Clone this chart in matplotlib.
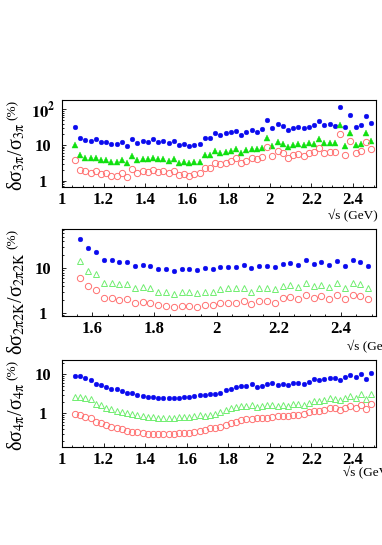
import matplotlib
matplotlib.use("Agg")
import matplotlib.pyplot as plt
from matplotlib.ticker import FixedLocator, FixedFormatter, NullFormatter, LogLocator

plt.rcParams['mathtext.fontset'] = 'stix'

# energy bin centres (GeV)
e_full = [1.0625, 1.0875, 1.1125, 1.1375, 1.1625, 1.1875, 1.2125, 1.2375, 1.2625, 1.2875,
          1.3125, 1.3375, 1.3625, 1.3875, 1.4125, 1.4375, 1.4625, 1.4875, 1.5125, 1.5375,
          1.5625, 1.5875, 1.6125, 1.6375, 1.6625, 1.6875, 1.7125, 1.7375, 1.7625, 1.7875,
          1.8125, 1.8375, 1.8625, 1.8875, 1.9125, 1.9375, 1.9625, 1.9875, 2.0125, 2.0375,
          2.0625, 2.0875, 2.1125, 2.1375, 2.1625, 2.1875, 2.2125, 2.2375, 2.2625, 2.2875,
          2.3125, 2.3375, 2.3625, 2.3875, 2.4125, 2.4375, 2.4625, 2.4875]
e_2k = [1.5625, 1.5875, 1.6125, 1.6375, 1.6625, 1.6875, 1.7125, 1.7375, 1.7625, 1.7875,
        1.8125, 1.8375, 1.8625, 1.8875, 1.9125, 1.9375, 1.9625, 1.9875, 2.0125, 2.0375,
        2.0625, 2.0875, 2.1125, 2.1375, 2.1625, 2.1875, 2.2125, 2.2375, 2.2625, 2.2875,
        2.3125, 2.3375, 2.3625, 2.3875, 2.4125, 2.4375, 2.4625, 2.4875]

# 3pi relative errors (%)
pi3_blue = [31, 16, 13.8, 13.2, 14.4, 11.9, 11.9, 10.4, 10.4, 12.4,
            9.6, 14.7, 11.4, 12.9, 12.4, 14.4, 12.4, 12.9, 11.4, 12.9,
            10.0, 10.4, 9.2, 10.2, 10.6, 15.4, 15.4, 21.2, 19.1, 21.2,
            22.7, 25.2, 19.1, 22.7, 26.3, 23.7, 27.5, 50, 29.3, 38.8,
            34, 26.3, 29.3, 32.7, 29.3, 32.7, 36.3, 47, 36.3, 38.8,
            34, 114, 31.3, 69, 31.3, 36.3, 66, 40.5]
pi3_green = [10, 5.2, 4.4, 4.2, 4.4, 3.8, 3.8, 3.4, 3.4, 3.8,
             3.1, 4.9, 3.8, 4.1, 4.0, 4.4, 4.0, 4.1, 3.6, 4.1,
             3.2, 3.4, 3.1, 3.4, 3.4, 5.3, 5.2, 6.8, 6.1, 6.5,
             6.9, 7.7, 6.1, 7.2, 7.7, 7.6, 8.4, 15.4, 9.4, 12.4,
             10.7, 9.0, 10, 10.7, 10, 11.1, 10.7, 14.7, 11.1, 11.6,
             11.1, 36, 9.6, 22, 10, 10.7, 21, 13.2]
pi3_red = [3.8, 2.0, 1.8, 1.68, 1.87, 1.54, 1.6, 1.38, 1.38, 1.6,
           1.24, 2.1, 1.6, 1.8, 1.7, 2.0, 1.7, 1.8, 1.6, 1.87,
           1.44, 1.54, 1.38, 1.54, 1.6, 2.3, 2.2, 3.06, 2.9, 3.2,
           3.6, 4.2, 3.06, 3.6, 4.2, 3.96, 4.7, 8.6, 4.9, 6.8,
           5.8, 4.4, 5.2, 5.6, 5.0, 5.8, 6.5, 8.1, 6.1, 6.5,
           6.2, 20, 5.2, 12.9, 5.8, 6.8, 11.9, 7.6]

# 2pi2K relative errors (%)
k2_blue = [44.9, 28.8, 23.5, 15.3, 15.6, 13.6, 14.1, 11.3, 11.9, 11.5,
           9.8, 9.7, 8.9, 9.5, 9.5, 9.0, 10, 9.7, 10.9, 10.5,
           10.7, 11.7, 10, 11.5, 11.3, 10.9, 12.7, 13.4, 11.9, 15.3,
           12.7, 14.1, 11.9, 14.5, 11.5, 15.1, 13.6, 11.5]
k2_green = [14.5, 8.9, 7.4, 4.8, 4.8, 4.4, 4.4, 3.6, 3.8, 3.6,
            3.0, 3.0, 2.7, 2.9, 2.9, 2.8, 3.0, 2.9, 3.4, 3.6,
            3.6, 3.7, 3.0, 3.7, 3.7, 3.5, 4.1, 4.3, 3.8, 4.8,
            4.1, 4.3, 3.8, 4.6, 3.6, 4.6, 4.4, 3.7]
k2_red = [6.2, 4.0, 3.3, 2.15, 2.2, 2.0, 2.05, 1.67, 1.76, 1.73,
          1.53, 1.48, 1.36, 1.48, 1.48, 1.41, 1.53, 1.53, 1.73, 1.73,
          1.73, 1.88, 1.58, 1.88, 1.88, 1.73, 2.2, 2.35, 2.08, 2.56,
          2.2, 2.43, 2.08, 2.56, 2.08, 2.56, 2.43, 2.08]

# 4pi relative errors (%)
pi4_blue = [9.2, 9.1, 7.9, 7.2, 5.65, 5.3, 4.6, 4.1, 4.1, 3.7,
            3.4, 3.26, 2.95, 2.84, 2.67, 2.57, 2.52, 2.52, 2.52, 2.42,
            2.52, 2.57, 2.67, 2.84, 2.95, 2.95, 3.07, 3.13, 3.4, 3.97,
            4.1, 4.83, 5.0, 5.1, 5.5, 4.83, 5.1, 5.5, 5.9, 5.3,
            5.5, 5.3, 6.1, 5.9, 5.65, 6.5, 7.4, 7.2, 7.6, 8.2,
            7.9, 7.2, 8.4, 9.6, 8.4, 10, 7.4, 10.6]
pi4_green = [2.67, 2.67, 2.42, 2.33, 1.70, 1.64, 1.40, 1.27, 1.15, 1.10,
             1.0, 0.94, 0.906, 0.87, 0.82, 0.79, 0.77, 0.77, 0.77, 0.77,
             0.79, 0.79, 0.82, 0.855, 0.906, 0.87, 0.906, 0.961, 1.10, 1.22,
             1.34, 1.48, 1.54, 1.57, 1.64, 1.48, 1.57, 1.64, 1.64, 1.54,
             1.64, 1.57, 1.70, 1.70, 1.64, 1.88, 2.11, 2.11, 2.2, 2.42,
             2.33, 2.2, 2.52, 2.84, 2.42, 3.07, 2.33, 3.07]
pi4_red = [0.94, 0.906, 0.82, 0.745, 0.61, 0.554, 0.502, 0.455, 0.412, 0.389,
           0.36, 0.339, 0.326, 0.307, 0.295, 0.295, 0.29, 0.29, 0.29, 0.295,
           0.307, 0.307, 0.32, 0.339, 0.36, 0.374, 0.412, 0.429, 0.455, 0.502,
           0.554, 0.61, 0.675, 0.716, 0.716, 0.774, 0.745, 0.774, 0.82, 0.855,
           0.87, 0.87, 0.906, 0.906, 0.961, 1.10, 1.15, 1.15, 1.22, 1.34,
           1.40, 1.22, 1.34, 1.54, 1.34, 1.64, 1.27, 1.73]

W, H = 382, 545
BLUE = '#0a0aee'
GREEN = '#10e010'
GREEN_OPEN = '#70ee70'
RED_OPEN = '#ff7070'
TICKFONT = dict(family='Liberation Serif', weight='bold', size=12)
SERIF = ['Liberation Serif', 'DejaVu Serif']

fig = plt.figure(figsize=(W / 100, H / 100), dpi=100)


def add_axes(top, bottom, left=62, right=376):
    return fig.add_axes([left / W, 1 - bottom / H, (right - left) / W, (bottom - top) / H])


def panel(ax, e, blue, green, red, filled, xlim, ylim, xticks, yticks, ylabels, ytxt, xlab_x, xlab_y):
    ax.plot(e, blue, 'o', color=BLUE, ms=3.4, mec=BLUE, mew=0.3)
    if filled:
        ax.plot(e, green, '^', color=GREEN, ms=4.6, mec=GREEN, mew=0.3)
    else:
        ax.plot(e, green, '^', mfc='none', mec=GREEN_OPEN, ms=4.8, mew=0.7)
    ax.plot(e, red, 'o', mfc='none', mec=RED_OPEN, ms=4.5, mew=0.7)
    ax.set_yscale('log')
    ax.set_xlim(*xlim)
    ax.set_ylim(*ylim)
    ax.xaxis.set_major_locator(FixedLocator(xticks))
    ax.xaxis.set_major_formatter(FixedFormatter(['%g' % t for t in xticks]))
    ax.xaxis.set_minor_locator(FixedLocator([x / 100 for x in range(100, 255, 5)]))
    ax.yaxis.set_major_locator(FixedLocator(yticks))
    ax.yaxis.set_major_formatter(FixedFormatter(ylabels))
    ax.yaxis.set_minor_locator(LogLocator(subs=range(2, 10)))
    ax.yaxis.set_minor_formatter(NullFormatter())
    ax.tick_params(which='both', direction='in', top=False, right=False, width=0.6)
    ax.tick_params(which='major', length=3.0)
    ax.tick_params(which='minor', length=1.7)
    ax.tick_params(axis='x', pad=3.5)
    ax.tick_params(axis='y', pad=13.5)
    for lab in ax.get_xticklabels() + ax.get_yticklabels():
        lab.set_fontproperties(matplotlib.font_manager.FontProperties(**TICKFONT))
    for lab in ax.get_yticklabels():
        lab.set_horizontalalignment('center')
    for sp in ax.spines.values():
        sp.set_linewidth(0.8)
    pct = ax.annotate('(%)', xy=(0, 1), xycoords='axes fraction', xytext=(-49, 0),
                      textcoords='offset pixels', rotation=90, rotation_mode='anchor',
                      ha='right', va='center', fontsize=9.5, family=SERIF)
    ax.annotate(ytxt, xy=(0.5, 0), xycoords=pct, xytext=(3, -3), textcoords='offset pixels',
                rotation=90, rotation_mode='anchor', ha='right', va='center',
                fontsize=14.5, family=SERIF)
    fig.text(xlab_x / W, 1 - xlab_y / H, '\u221as (GeV)', ha='left', va='center',
             fontsize=9.5, family=SERIF)


ax1 = add_axes(100, 187)
panel(ax1, e_full, pi3_blue, pi3_green, pi3_red, True, (1.0, 2.511), (0.66, 183),
      [1.0, 1.2, 1.4, 1.6, 1.8, 2.0, 2.2, 2.4], [1, 10, 100], ['1', '10', r'$\mathbf{10^{2}}$'],
      r'δσ$_{\mathrm{3\pi}}$/σ$_{\mathrm{3\pi}}$', 328, 216)

ax2 = add_axes(229, 316)
panel(ax2, e_2k, k2_blue, k2_green, k2_red, False, (1.503, 2.513), (0.87, 75),
      [1.6, 1.8, 2.0, 2.2, 2.4], [1, 10], ['1', '10'],
      r'δσ$_{\mathrm{2\pi 2K}}$/σ$_{\mathrm{2\pi 2K}}$', 347, 347)

ax3 = add_axes(360, 447)
panel(ax3, e_full, pi4_blue, pi4_green, pi4_red, False, (1.0, 2.511), (0.137, 23.3),
      [1.0, 1.2, 1.4, 1.6, 1.8, 2.0, 2.2, 2.4], [1, 10], ['1', '10'],
      r'δσ$_{\mathrm{4\pi}}$/σ$_{\mathrm{4\pi}}$', 343, 473)

fig.savefig('out.png', dpi=100)
